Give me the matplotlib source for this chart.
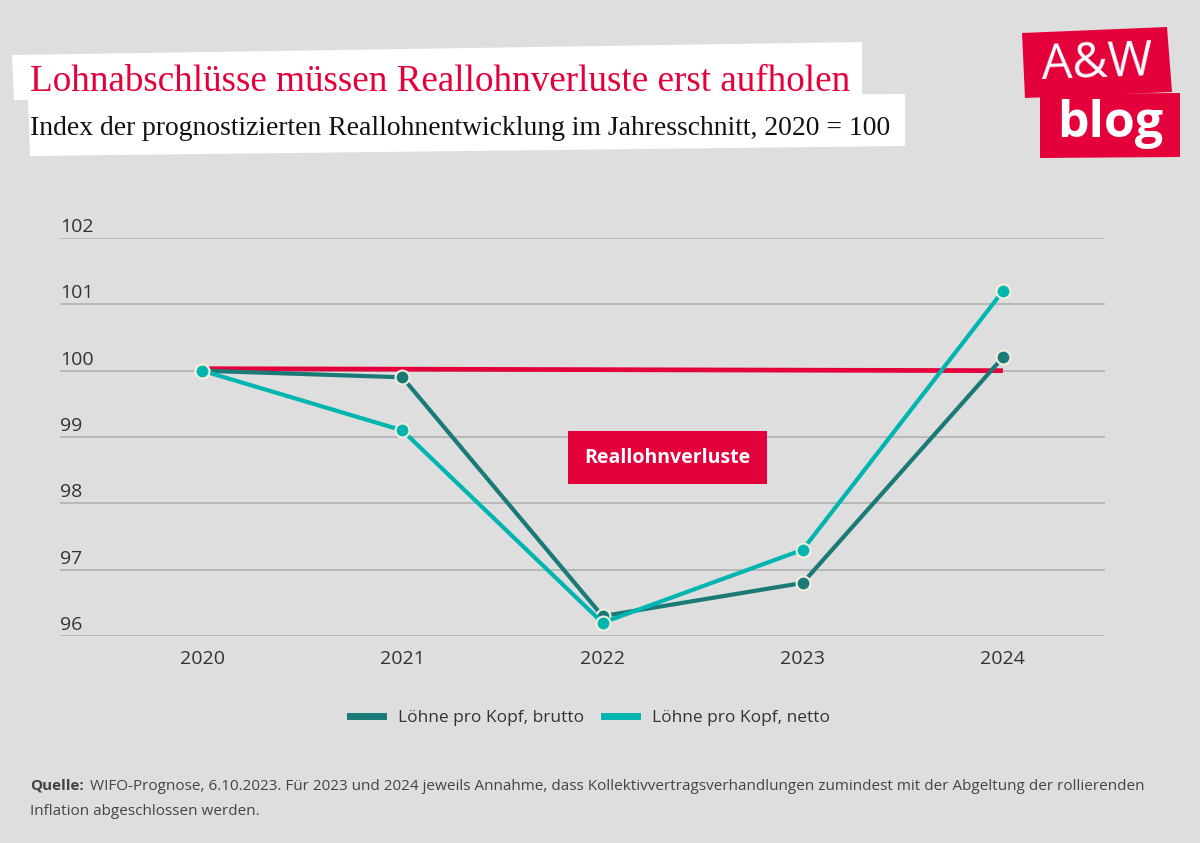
import numpy as np
import matplotlib.pyplot as plt
from matplotlib.patches import Polygon

years = [2020, 2021, 2022, 2023, 2024]
brutto = [100.0, 99.9, 96.3, 96.8, 100.2]
netto = [100.0, 99.1, 96.2, 97.3, 101.2]
ref_line = [100.03, 100.0]
yticks = [96, 97, 98, 99, 100, 101, 102]

title = "Lohnabschlüsse müssen Reallohnverluste erst aufholen"
subtitle = "Index der prognostizierten Reallohnentwicklung im Jahresschnitt, 2020 = 100"
source = ("WIFO-Prognose, 6.10.2023. Für 2023 und 2024 jeweils Annahme, dass Kollektivvertragsverhandlungen "
          "zumindest mit der Abgeltung der rollierenden")
source2 = "Inflation abgeschlossen werden."

BG = "#dedede"
RED = "#e4003a"
DARK = "#1a7a78"
CYAN = "#00b5b0"
W, H = 1200, 843

plt.rcParams['font.family'] = ['Open Sans', 'DejaVu Sans']

fig = plt.figure(figsize=(12, 8.43), dpi=100, facecolor=BG)


def px(x, y):
    return (x / W, 1 - y / H)


def fit(t, width_px):
    # shrink/grow font so the text spans the wanted pixel width
    r = fig.canvas.get_renderer()
    w = t.get_window_extent(renderer=r).width
    t.set_fontsize(t.get_fontsize() * width_px / w)


# white title boxes (slightly tilted)
fig.patches.append(Polygon([px(12, 55), px(862, 42), px(862, 97), px(14, 100)],
                           closed=True, transform=fig.transFigure, fc="white", ec="none"))
fig.patches.append(Polygon([px(28, 98), px(905, 94), px(905, 146), px(30, 156)],
                           closed=True, transform=fig.transFigure, fc="white", ec="none"))

t1 = fig.text(30 / W, 1 - 91 / H, title, family="Liberation Serif", fontsize=24, color=RED, va="baseline")
t2 = fig.text(30 / W, 1 - 135 / H, subtitle, family="Liberation Serif", fontsize=18, color="#111111",
              va="baseline")
fit(t1, 822)
fit(t2, 863)

# logo
fig.patches.append(Polygon([px(1022, 33), px(1167, 27), px(1172, 92), px(1025, 98)],
                           closed=True, transform=fig.transFigure, fc=RED, ec="none"))
fig.patches.append(Polygon([px(1040, 94), px(1180, 93), px(1180, 157), px(1040, 158)],
                           closed=True, transform=fig.transFigure, fc=RED, ec="none"))
fig.text(1097 / W, 1 - 64 / H, "A&W", family="Open Sans", fontsize=35, color="white",
         ha="center", va="center", rotation=2)
fig.text(1110 / W, 1 - 124 / H, "blog", family="Open Sans", fontweight="bold", fontsize=36,
         color="white", ha="center", va="center")

# chart
ax = fig.add_axes([60 / W, 1 - 636 / H, 1045 / W, 398 / H])
ax.set_facecolor(BG)
ax.set_xlim(2019.29, 2024.51)
ax.set_ylim(96, 102)
for s in ax.spines.values():
    s.set_visible(False)
ax.set_yticks(yticks)
ax.set_yticklabels([])
ax.tick_params(axis="y", length=0)
ax.grid(axis="y", color="#b4b4b4", linewidth=1.3)
ax.set_axisbelow(True)
for v in yticks:
    ax.text(0, v + 0.03, str(v), transform=ax.get_yaxis_transform(), fontsize=14, color="#333333",
            ha="left", va="bottom")
ax.set_xticks(years)
ax.set_xticklabels([str(y) for y in years], fontsize=14, color="#333333")
ax.tick_params(axis="x", length=0, pad=10)

ax.plot([years[0], years[-1]], ref_line, color=RED, linewidth=3.4, zorder=3, solid_capstyle="butt")
mk = dict(marker="o", markersize=10, markeredgecolor="#f3efdc", markeredgewidth=1.5, linewidth=3, clip_on=False)
ax.plot(years, brutto, color=DARK, label="Löhne pro Kopf, brutto", zorder=4, **mk)
ax.plot(years, netto, color=CYAN, label="Löhne pro Kopf, netto", zorder=5, **mk)

ax.text(2022.325, 98.69, "Reallohnverluste", fontsize=14, fontweight="bold", color="white",
        ha="center", va="center", zorder=6,
        bbox=dict(boxstyle="square,pad=0.85", fc=RED, ec="none"))

h, l = ax.get_legend_handles_labels()
leg = fig.legend(h, l, loc="center", bbox_to_anchor=(590 / W, 1 - 718 / H), ncol=2,
                 frameon=False, fontsize=12.5, handlelength=1.9, handletextpad=0.9, columnspacing=1.1,
                 labelcolor="#333333")
for ln in leg.get_lines():
    ln.set_marker("")
    ln.set_linewidth(5)

# footer
q = fig.text(30 / W, 1 - 790 / H, "Quelle:", fontsize=12, fontweight="bold", color="#444444", va="baseline")
fig.canvas.draw()
qe = q.get_window_extent(renderer=fig.canvas.get_renderer())
s1 = fig.text((qe.x1 + 1) / W, 1 - 790 / H, source, fontsize=12, color="#444444", va="baseline")
s2 = fig.text(30 / W, 1 - 815 / H, source2, fontsize=12, color="#444444", va="baseline")
r = fig.canvas.get_renderer()
w1 = s1.get_window_extent(renderer=r).width
scale = (1135 - qe.x1 - 1) / w1
s1.set_fontsize(12 * scale)
s2.set_fontsize(12 * scale)
q.set_fontsize(12 * scale)

fig.savefig("out.png", dpi=100, facecolor=BG)
